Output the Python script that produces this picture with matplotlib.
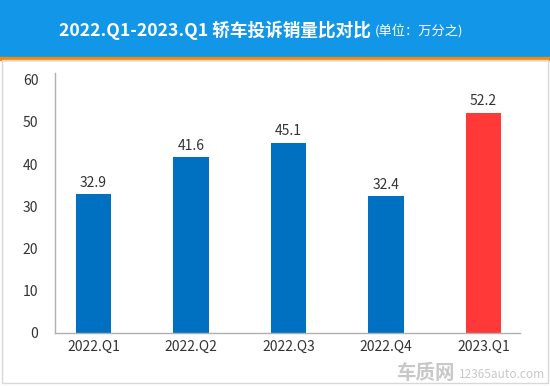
import matplotlib.pyplot as plt
from matplotlib.patches import Rectangle

plt.rcParams['font.family'] = ['Noto Sans CJK SC', 'DejaVu Sans']

quarters = ['2022.Q1', '2022.Q2', '2022.Q3', '2022.Q4', '2023.Q1']
values = [32.9, 41.6, 45.1, 32.4, 52.2]
bar_colors = ['#0070c0', '#0070c0', '#0070c0', '#0070c0', '#ff3838']
yticks = [0, 10, 20, 30, 40, 50, 60]

W, H = 550, 386
fig = plt.figure(figsize=(5.5, 3.86), dpi=100)

# header band + orange line
fig.patches.append(Rectangle((0, 1 - 57 / H), 1, 57 / H, transform=fig.transFigure,
                             color='#1196e8', zorder=0))
fig.patches.append(Rectangle((0, 1 - 60 / H), 1, 3 / H, transform=fig.transFigure,
                             color='#f28a0c', zorder=0))
# light frame around chart area
fig.patches.append(Rectangle((2 / W, 1 - 383 / H), 546 / W, 323 / H,
                             transform=fig.transFigure, fill=False,
                             edgecolor='#d8d8d8', linewidth=1, zorder=0))

fig.text(59 / W, 1 - 30 / H, '2022.Q1-2023.Q1 轿车投诉销量比对比', color='white',
         fontsize=12.7, fontweight='bold', ha='left', va='center')
fig.text(375 / W, 1 - 31 / H, '(单位：万分之)', color='white', fontsize=9.5,
         ha='left', va='center')

ax = fig.add_axes([55 / W, 1 - 333 / H, 465 / W, 260 / H])
x = range(len(quarters))
bars = ax.bar(x, values, width=0.36, color=bar_colors)
for xi, v in zip(x, values):
    ax.text(xi, v + 1.0, f'{v}', ha='center', va='bottom', fontsize=10, color='#333333')

ax.set_xlim(-0.395, 4.375)
ax.set_ylim(0, 61.6)
ax.set_yticks(yticks)
ax.set_xticks(list(x))
ax.set_xticklabels(quarters)
ax.tick_params(axis='both', length=0, labelsize=10, colors='#333333')
ax.tick_params(axis='y', pad=12)
ax.tick_params(axis='x', pad=5)
for s in ['top', 'right']:
    ax.spines[s].set_visible(False)
for s in ['left', 'bottom']:
    ax.spines[s].set_color('#b0b0b0')
    ax.spines[s].set_linewidth(1)

# watermark
fig.text(455 / W, 1 - 373 / H, '车质网', color='#c8c8c8', fontsize=14, fontweight='bold',
         ha='right', va='center')
fig.text(459 / W, 1 - 374 / H, '12365auto.com', color='#c8c8c8', fontsize=8.5,
         ha='left', va='center')

fig.savefig('out.png', dpi=100)
